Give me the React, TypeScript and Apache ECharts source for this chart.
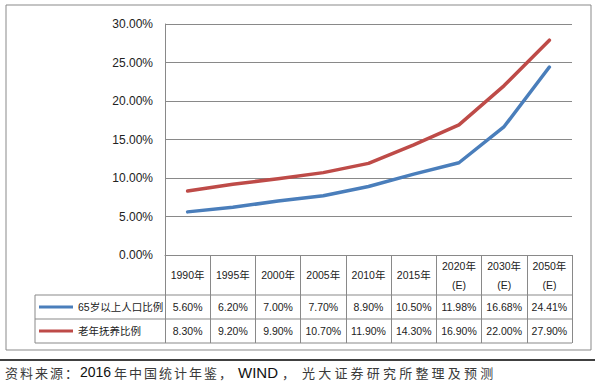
import React, { useEffect, useRef } from "react";
import * as echarts from "echarts";

const categories = ["1990年", "1995年", "2000年", "2005年", "2010年", "2015年", "2020年\n(E)", "2030年\n(E)", "2050年\n(E)"];
const seriesNames = ["65岁以上人口比例", "老年抚养比例"];
const elderlyShare = [5.6, 6.2, 7.0, 7.7, 8.9, 10.5, 11.98, 16.68, 24.41];
const dependencyRatio = [8.3, 9.2, 9.9, 10.7, 11.9, 14.3, 16.9, 22.0, 27.9];
const yTicks = { min: 0, max: 30, interval: 5 };
const sourcePieces = ["资料来源：", "2016", "年中国统计年鉴，", "WIND", "，", "光大证券研究所整理及预测"];

const FONT = "'Liberation Sans', 'Noto Sans CJK SC', sans-serif";
const CJK = "'Noto Sans CJK SC', sans-serif";
const GRID = "#898989";
const BLUE = "#4A7EBB";
const RED = "#BE4B48";

function spaced(text: string, x0: number, pitch: number, y: number, size: number): any[] {
  return Array.from(text).map((ch, i) => ({
    type: "text", x: x0 + i * pitch, y,
    style: { text: ch, font: `${size}px ${CJK}`, fill: "#3a3a3a", textVerticalAlign: "middle" },
  }));
}

export default function App() {
  const ref = useRef<HTMLDivElement>(null);
  useEffect(() => {
    if (!ref.current) return;
    const chart = echarts.init(ref.current, undefined, { renderer: "svg" });
    const fmt = (v: number) => v.toFixed(2) + "%";
    const gl = 165, gr = 572, gt = 24, gb = 255;
    const row1 = 295, row2 = 319, row3 = 343;
    const textY = 372;
    const option: any = {
      animation: false,
      backgroundColor: "#fff",
      grid: { left: gl, right: 604 - gr, top: gt, bottom: 388 - gb, containLabel: false },
      legend: [
        {
          data: [seriesNames[0]], left: 39, top: row1 + 5, padding: 0, orient: "vertical",
          icon: "rect", itemWidth: 34, itemHeight: 3,
          textStyle: { fontFamily: FONT, fontSize: 10.5, color: "#222", lineHeight: 14 },
        },
        {
          data: [seriesNames[1]], left: 39, top: row2 + 5, padding: 0, orient: "vertical",
          icon: "rect", itemWidth: 34, itemHeight: 3,
          textStyle: { fontFamily: FONT, fontSize: 10.5, color: "#222", lineHeight: 14 },
        },
      ],
      xAxis: [
        {
          type: "category", data: categories, position: "bottom", boundaryGap: true,
          axisLine: { show: true, lineStyle: { color: GRID, width: 1 } },
          axisTick: { show: true, interval: 0, length: row3 - gb, lineStyle: { color: GRID, width: 1 } },
          axisLabel: {
            interval: 0, margin: (row1 - gb) / 2, verticalAlign: "middle",
            fontFamily: FONT, fontSize: 10.5, lineHeight: 19, color: "#222",
          },
          splitLine: { show: false },
        },
        {
          type: "category", data: elderlyShare.map(fmt), position: "bottom", offset: row1 - gb,
          axisLine: { show: false }, axisTick: { show: false }, splitLine: { show: false },
          axisLabel: { interval: 0, margin: (row2 - row1) / 2, verticalAlign: "middle", fontFamily: FONT, fontSize: 10.5, color: "#222" },
        },
        {
          type: "category", data: dependencyRatio.map(fmt), position: "bottom", offset: row2 - gb,
          axisLine: { show: false }, axisTick: { show: false }, splitLine: { show: false },
          axisLabel: { interval: 0, margin: (row3 - row2) / 2, verticalAlign: "middle", fontFamily: FONT, fontSize: 10.5, color: "#222" },
        },
      ],
      yAxis: {
        type: "value", min: yTicks.min, max: yTicks.max, interval: yTicks.interval,
        axisLine: { show: true, lineStyle: { color: GRID, width: 1 } },
        axisTick: { show: false },
        splitLine: { show: true, lineStyle: { color: GRID, width: 1 } },
        axisLabel: { formatter: fmt, margin: 12, fontFamily: FONT, fontSize: 12, color: "#222" },
      },
      series: [
        {
          name: seriesNames[0], type: "line", data: elderlyShare, xAxisIndex: 0, symbol: "none",
          color: BLUE, lineStyle: { color: BLUE, width: 3.5, cap: "round", join: "round" }, z: 3,
        },
        {
          name: seriesNames[1], type: "line", data: dependencyRatio, xAxisIndex: 0, symbol: "none",
          color: RED, lineStyle: { color: RED, width: 3.5, cap: "round", join: "round" }, z: 4,
        },
      ],
      graphic: [
        { type: "rect", z: -1, shape: { x: 6, y: 5, width: 585, height: 345 }, style: { fill: "none", stroke: GRID, lineWidth: 1 } },
        { type: "line", shape: { x1: 35, y1: row1, x2: gr, y2: row1 }, style: { stroke: GRID, lineWidth: 1 } },
        { type: "line", shape: { x1: 35, y1: row2, x2: gr, y2: row2 }, style: { stroke: GRID, lineWidth: 1 } },
        { type: "line", shape: { x1: 35, y1: row3, x2: gr, y2: row3 }, style: { stroke: GRID, lineWidth: 1 } },
        { type: "line", shape: { x1: 35, y1: row1, x2: 35, y2: row3 }, style: { stroke: GRID, lineWidth: 1 } },
        { type: "line", shape: { x1: 0, y1: 360, x2: 595, y2: 360 }, style: { stroke: "#000", lineWidth: 1.5 } },
        ...spaced(sourcePieces[0], 5, 15, textY, 13),
        { type: "text", x: 80, y: textY, style: { text: sourcePieces[1], font: `14px ${FONT}`, fill: "#111", textVerticalAlign: "middle" } },
        ...spaced(sourcePieces[2], 114, 15, textY, 13),
        { type: "text", x: 238, y: textY, style: { text: sourcePieces[3], font: `15px ${FONT}`, fill: "#111", textVerticalAlign: "middle" } },
        ...spaced(sourcePieces[4], 282, 15, textY, 13),
        ...spaced(sourcePieces[5], 302, 16.2, textY, 13),
      ],
    };
    chart.setOption(option);
    return () => chart.dispose();
  }, []);
  return <div ref={ref} style={{ position: "fixed", left: 0, top: 0, width: 604, height: 388, background: "#fff" }} />;
}
